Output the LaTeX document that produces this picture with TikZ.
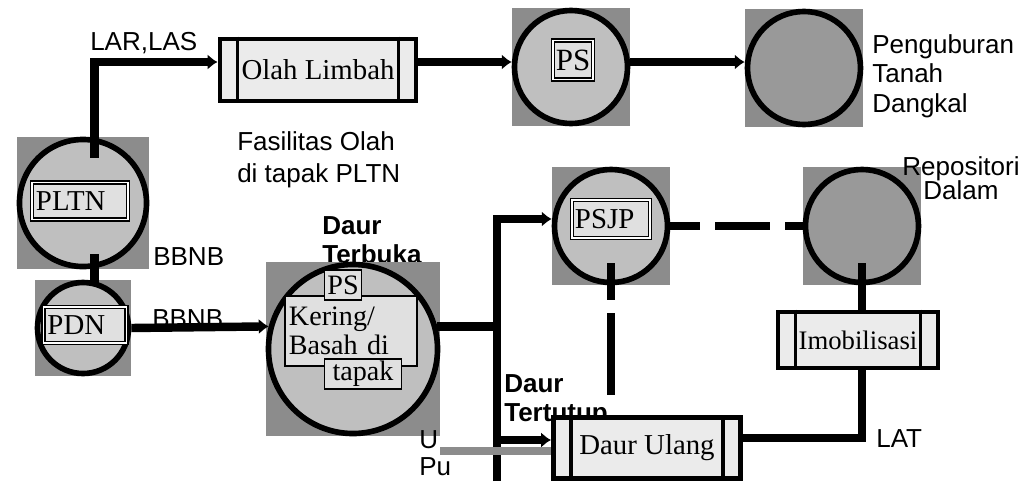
\documentclass[tikz,border=0pt]{standalone}
\usepackage{fontspec}
\setmainfont{Liberation Serif}
\setsansfont{Liberation Sans}
\usepackage{tikz}
\usetikzlibrary{arrows.meta, positioning, calc, backgrounds}

\begin{document}
\begin{tikzpicture}[x=0.025cm, y=-0.025cm,
    lbl/.style={font=\sffamily\fontsize{18.5}{21}\selectfont, align=left, inner sep=0pt},
    hd/.style={lbl, font=\sffamily\bfseries\fontsize{18.5}{21}\selectfont},
    stn/.style={circle, draw, line width=4pt, fill=black!25, minimum size=#1, inner sep=0pt},
    deep/.style={fill=black!40},
    tag/.style={draw, double, double distance=1.3pt, line width=0.8pt, fill=black!12,
                font=\rmfamily\fontsize{20.5}{22}\selectfont, inner sep=0pt, align=left},
    sub/.style={draw, line width=1.2pt, fill=black!12,
                font=\rmfamily\fontsize{20}{20.5}\selectfont, inner sep=0pt, align=left},
    proc/.style={draw, line width=3.5pt, fill=black!8, inner sep=0pt,
                 font=\rmfamily\fontsize{20.5}{22}\selectfont},
    bar/.style={line width=2.2pt},
    sq/.style={fill=black!45},
    link/.style={line width=6pt},
    flow/.style={link, -{Latex[length=7pt, width=11pt]}},
    pu/.style={line width=6pt, black!45}
]
\useasboundingbox (0,0) rectangle (1032,481);

% labels
\node[lbl, anchor=base west] (larlas) at (90,50) {LAR,LAS};
\node[lbl, anchor=north west] (fasil) at (237,131) {Fasilitas Olah\\[1.8pt]di tapak PLTN};
\node[lbl, anchor=north west] (dangkal) at (872,34) {Penguburan\\Tanah\\Dangkal};
\node[lbl, align=center, anchor=north] (dalam) at (961,156) {Repositori\\[-4pt]Dalam};
\node[lbl, anchor=base west] (bbnba) at (153,265) {BBNB};
\node[lbl, anchor=base west] (bbnbb) at (152,327) {BBNB};
\node[hd, anchor=north west] (dtert) at (504,374) {Daur\\Tertutup};
\node[lbl, anchor=base west] (uran) at (419,448) {U};
\node[lbl, anchor=base west] (plut) at (419,475) {Pu};
\node[lbl, anchor=base west] (lat) at (876,447) {LAT};

% stations
\node[stn=3.175cm] (pltn) at (83,203) {};
\node[stn=2.275cm] (pdn) at (83,328) {};
\node[stn=2.825cm] (ps) at (571,67) {};
\node[stn=2.825cm, deep] (tanah) at (804,68) {};
\node[stn=4.225cm] (daur) at (353,349) {};
\node[stn=2.825cm] (psjp) at (611,226) {};
\node[stn=2.825cm, deep] (repo) at (862,226) {};

\node[tag, minimum width=2.4cm, minimum height=0.925cm, text width=2.2cm] (pltntag) at (80,201) {PLTN};
\node[tag, minimum width=2.075cm, minimum height=0.9cm, text width=1.875cm] (pdntag) at (85,325) {PDN};
\node[tag, minimum width=1cm, minimum height=0.975cm, align=center,
      font=\rmfamily\fontsize{22}{24}\selectfont] (pstag) at (573,60) {PS};
\node[tag, minimum width=1.95cm, minimum height=0.95cm, text width=1.8cm] (psjptag) at (611,219) {PSJP};
\node[sub, minimum width=3.3cm, minimum height=1.75cm, text width=3.1cm] (kering) at (351,331) {Kering/\\Basah di};
\node[sub, minimum width=0.925cm, minimum height=0.75cm, align=center] (pssub) at (343,285) {PS};
\node[sub, minimum width=1.925cm, minimum height=0.75cm, align=center] (tapak) at (363,374) {tapak};

% processes
\node[proc, minimum width=4.9cm, minimum height=1.55cm] (olah) at (318,70) {Olah Limbah};
\node[proc, minimum width=4.675cm, minimum height=1.525cm] (ulang) at (647,448) {Daur Ulang};
\node[proc, minimum width=4.0cm, minimum height=1.4cm,
      font=\rmfamily\fontsize{19}{21}\selectfont] (imob) at (858,340) {Imobilisasi};
\foreach \b in {olah,ulang,imob}{
  \draw[bar] ([xshift=0.5cm]\b.north west) -- ([xshift=0.5cm]\b.south west);
  \draw[bar] ([xshift=-0.5cm]\b.north east) -- ([xshift=-0.5cm]\b.south east);
}

\begin{scope}[on background layer]
  \node[hd, anchor=north west] (dterb) at (322,216) {Daur\\Terbuka};
  \foreach \c in {pltn,pdn,ps,tanah,daur,psjp,repo}
    \fill[sq] (\c.west |- \c.north) rectangle (\c.east |- \c.south);
\end{scope}

% connectors
\coordinate (top) at (0,62);
\coordinate (bustop) at (497,219);
\coordinate (busbot) at (497,481);
\coordinate (upu) at (440,451);
\coordinate (inlet) at ([yshift=0.2cm]ulang.west);
\coordinate (outlet) at ([yshift=0.25cm]ulang.east);

\draw[flow, shorten <=-0.5cm] (pltn.80) |- (top -| olah.west);
\draw[flow] (top -| olah.east) -- (top -| ps.west);
\draw[flow] (top -| ps.east) -- (top -| tanah.west);
\draw[link, shorten <=-0.35cm, shorten >=-0.15cm] (pltn.280) -- (pltn.280 |- pdn.north);
\draw[flow] (pdn.east) -- (daur.165);
\draw[link] (daur.15) -- (daur.15 -| bustop);
\draw[flow] (busbot) -- (bustop) -- (bustop -| psjp.west);
\draw[flow] (inlet -| bustop) -- (inlet);
\draw[pu] (upu) -- (upu -| ulang.west);
\draw[link, dash pattern=on 21.3pt off 10.7pt on 39.1pt off 10.7pt on 43pt off 10pt] (psjp.east) -- (repo.west);
\draw[link, dash pattern=on 26.3pt off 9.2pt on 58.3pt off 40pt, shorten <=-0.55cm] (psjp.south) -- (psjp.south |- ulang.north);
\draw[link, shorten <=-0.55cm] (repo.south) -- (repo.south |- imob.north);
\draw[link] (outlet) -| (repo.south |- imob.south);
\end{tikzpicture}
\end{document}
